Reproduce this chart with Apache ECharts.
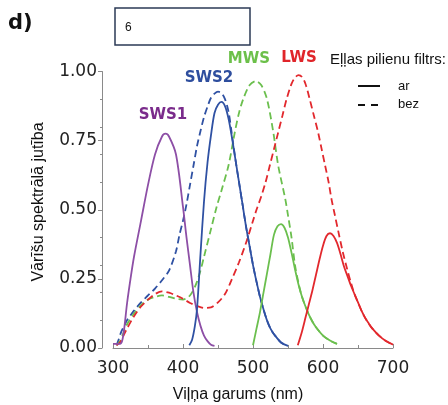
<!DOCTYPE html>
<html><head><meta charset="utf-8">
<script src="https://cdn.jsdelivr.net/npm/echarts@6/dist/echarts.min.js"></script>
<style>html,body{margin:0;padding:0;background:#fff}#c{width:448px;height:405px}</style>
</head><body><div id="c"></div><script>
// ---- data (wavelength nm, relative sensitivity) ----
const xTicks = [300, 400, 500, 600, 700];
const yTicks = [0.00, 0.25, 0.50, 0.75, 1.00];

// SWS1 (with oil droplet filter, "ar")
const wlSWS1ar = [300,305,310,313,316,320,325,330,340,350,360,370,375,380,390,400,405,410,415,420,425,430,435,440,445];
const vSWS1ar  = [0.015,0.015,0.015,0.025,0.07,0.16,0.25,0.33,0.46,0.59,0.70,0.765,0.775,0.765,0.70,0.51,0.40,0.30,0.20,0.13,0.08,0.045,0.025,0.012,0.008];

// SWS2
const wlSWS2ar = [409,413,417,420,425,430,435,440,445,450,455,460,465,470,475,480,485,490,495,500,505,510,515,520,525,530,540,550];
const vSWS2ar  = [0.01,0.03,0.08,0.14,0.34,0.53,0.67,0.77,0.85,0.88,0.89,0.875,0.83,0.76,0.68,0.60,0.52,0.44,0.37,0.30,0.24,0.185,0.14,0.10,0.07,0.05,0.02,0.008];
const wlSWS2bez = [305,308,312,316,320,330,340,350,360,370,380,390,395,400,405,410,415,420,425,430,436,440,445,450,455,460,465,470,475,480,485,490,495,500,505,510,515,520,525,530,540,550];
const vSWS2bez  = [0.01,0.03,0.06,0.08,0.10,0.135,0.165,0.19,0.215,0.245,0.28,0.35,0.41,0.46,0.52,0.59,0.66,0.73,0.785,0.835,0.88,0.905,0.92,0.927,0.922,0.90,0.855,0.77,0.68,0.60,0.52,0.44,0.37,0.30,0.24,0.185,0.14,0.10,0.07,0.05,0.02,0.008];

// MWS
const wlMWSar = [500,505,510,515,520,525,530,535,540,545,550,555,560,565,570,575,580,585,590,600,610,620];
const vMWSar  = [0.01,0.07,0.13,0.20,0.27,0.34,0.41,0.44,0.448,0.435,0.40,0.345,0.285,0.23,0.185,0.15,0.12,0.095,0.075,0.045,0.027,0.015];
const wlMWSbez = [305,310,315,320,330,340,350,360,370,380,390,400,405,410,415,420,425,430,440,448,455,465,474,480,486,495,504,512,520,529,536,546,550,555,560,565,570,575,580,585,590,600,610,620];
const vMWSbez  = [0.01,0.025,0.055,0.085,0.125,0.155,0.175,0.185,0.19,0.185,0.178,0.175,0.18,0.19,0.21,0.24,0.28,0.33,0.43,0.51,0.57,0.66,0.78,0.85,0.90,0.95,0.965,0.95,0.90,0.78,0.66,0.54,0.48,0.40,0.30,0.235,0.185,0.15,0.12,0.095,0.075,0.045,0.027,0.015];

// LWS
const wlLWSar = [564,570,575,580,585,590,595,600,605,610,615,620,625,630,635,640,645,650,655,660,665,670,680,690,700];
const vLWSar  = [0.01,0.06,0.11,0.16,0.21,0.265,0.32,0.37,0.405,0.415,0.405,0.38,0.34,0.295,0.26,0.225,0.195,0.165,0.135,0.11,0.09,0.072,0.045,0.025,0.012];
const wlLWSbez = [305,310,315,320,330,340,350,360,370,380,390,400,410,420,430,440,450,460,470,480,490,500,505,512,518,524,530,536,542,548,555,560,565,570,575,581,587,593,598,603,608,612,617,622,628,634,640,645,650,655,660,665,670,680,690,700];
const vLWSbez  = [0.01,0.02,0.045,0.07,0.115,0.15,0.175,0.195,0.205,0.20,0.19,0.178,0.163,0.152,0.145,0.147,0.165,0.195,0.25,0.31,0.38,0.46,0.50,0.55,0.60,0.66,0.72,0.78,0.84,0.90,0.955,0.978,0.987,0.98,0.955,0.90,0.84,0.78,0.72,0.66,0.60,0.54,0.48,0.42,0.35,0.29,0.235,0.195,0.165,0.135,0.11,0.09,0.072,0.045,0.025,0.012];

const cPurple = '#8D4FA6', cBlue = '#2F51A3', cGreen = '#6BBF4E', cRed = '#E2282D';

function pairs(xs, ys) { return xs.map((x, i) => [x, ys[i]]); }
function line(name, xs, ys, color, dashed) {
  return {
    name, type: 'line', data: pairs(xs, ys), showSymbol: false, smooth: 0.3,
    yAxisIndex: 0, silent: true, z: dashed ? 2 : 3,
    lineStyle: { color, width: 1.8, type: dashed ? [7, 4] : 'solid' }
  };
}

const chart = echarts.init(document.getElementById('c'), null, { renderer: 'canvas' });
const axisColor = '#8a8a8a';
const tickFont = { fontSize: 17, fontFamily: 'DejaVu Sans', color: '#222' };

chart.setOption({
  animation: false,
  backgroundColor: '#fff',
  grid: { left: 113, right: 55, top: 71.5, bottom: 57, containLabel: false },
  xAxis: {
    type: 'value', min: 300, max: 700, interval: 100, offset: 7,
    axisLine: { show: true, lineStyle: { color: axisColor, width: 1 } },
    axisTick: { show: true, inside: true, length: 4, lineStyle: { color: axisColor } },
    minorTick: { show: true, splitNumber: 2, length: 3, lineStyle: { color: axisColor } },
    splitLine: { show: false },
    axisLabel: Object.assign({ margin: 5, formatter: v => xTicks.includes(v) ? String(v) : '' }, tickFont)
  },
  yAxis: [{
    type: 'value', min: 0, max: 1, interval: 0.25, offset: 11, position: 'left',
    axisLine: { show: true, lineStyle: { color: axisColor, width: 1 } },
    axisTick: { show: true, length: 4, lineStyle: { color: axisColor } },
    splitLine: { show: false },
    axisLabel: Object.assign({ margin: 5, formatter: v => yTicks.find(t => Math.abs(t - v) < 1e-9) !== undefined ? v.toFixed(2) : '' }, tickFont)
  }, {
    type: 'value', min: 0, max: 1, interval: 0.1, offset: 11, position: 'left',
    axisLine: { show: false }, axisLabel: { show: false }, splitLine: { show: false },
    axisTick: { show: true, length: 2, lineStyle: { color: axisColor } }
  }],
  series: [
    line('SWS2 bez', wlSWS2bez, vSWS2bez, cBlue, true),
    line('MWS bez', wlMWSbez, vMWSbez, cGreen, true),
    line('LWS bez', wlLWSbez, vLWSbez, cRed, true),
    line('SWS1 ar', wlSWS1ar, vSWS1ar, cPurple, false),
    line('SWS2 ar', wlSWS2ar, vSWS2ar, cBlue, false),
    line('MWS ar', wlMWSar, vMWSar, cGreen, false),
    line('LWS ar', wlLWSar, vLWSar, cRed, false)
  ],
  graphic: [
    { type: 'text', left: 8, top: 13, style: { text: 'd)', font: 'bold 21px "DejaVu Sans"', fill: '#111' } },
    { type: 'rect', shape: { x: 115, y: 8, width: 135, height: 37 }, style: { fill: '#fff', stroke: '#2b3a55', lineWidth: 1.5 } },
    { type: 'text', x: 125, y: 28, style: { text: '6', font: '12px "Liberation Sans"', fill: '#111', textVerticalAlign: 'middle' } },
    { type: 'text', x: 163, y: 115, style: { text: 'SWS1', font: 'bold 15px "DejaVu Sans"', fill: '#7A2B8B', textAlign: 'center', textVerticalAlign: 'middle' } },
    { type: 'text', x: 209, y: 78, style: { text: 'SWS2', font: 'bold 15px "DejaVu Sans"', fill: '#2E4E9E', textAlign: 'center', textVerticalAlign: 'middle' } },
    { type: 'text', x: 249, y: 59, style: { text: 'MWS', font: 'bold 15px "DejaVu Sans"', fill: '#6CC04A', textAlign: 'center', textVerticalAlign: 'middle' } },
    { type: 'text', x: 299, y: 58, style: { text: 'LWS', font: 'bold 15px "DejaVu Sans"', fill: '#E0252A', textAlign: 'center', textVerticalAlign: 'middle' } },
    { type: 'text', x: 330, y: 60, style: { text: 'Eļļas pilienu filtrs:', font: '15px "Liberation Sans"', fill: '#111', textVerticalAlign: 'middle' } },
    { type: 'line', shape: { x1: 358, y1: 86, x2: 380, y2: 86 }, style: { stroke: '#111', lineWidth: 2 } },
    { type: 'text', x: 398, y: 86, style: { text: 'ar', font: '13px "Liberation Sans"', fill: '#111', textVerticalAlign: 'middle' } },
    { type: 'line', shape: { x1: 358, y1: 105, x2: 380, y2: 105 }, style: { stroke: '#111', lineWidth: 2, lineDash: [7, 6] } },
    { type: 'text', x: 398, y: 104, style: { text: 'bez', font: '13px "Liberation Sans"', fill: '#111', textVerticalAlign: 'middle' } },
    { type: 'text', x: 238, y: 395, style: { text: 'Viļņa garums (nm)', font: '16px "Liberation Sans"', fill: '#111', textAlign: 'center', textVerticalAlign: 'middle' } },
    { type: 'text', x: 39, y: 202, rotation: Math.PI / 2, style: { text: 'Vārīšu spektrālā jutība', font: '16px "Liberation Sans"', fill: '#111', textAlign: 'center', textVerticalAlign: 'middle' } }
  ]
});
</script></body></html>
